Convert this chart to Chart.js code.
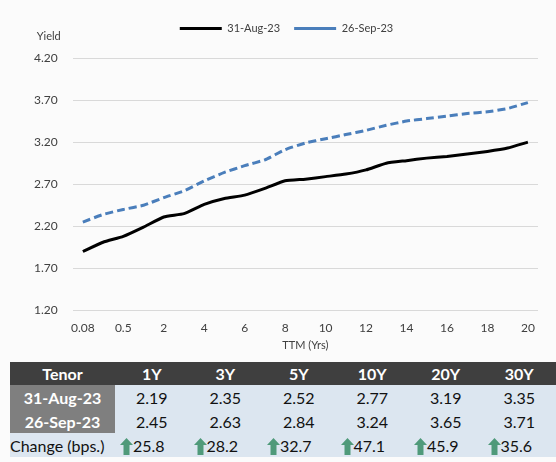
<!DOCTYPE html>
<html>
<head>
<meta charset="utf-8">
<script src="https://cdn.jsdelivr.net/npm/chart.js@4.4.0/dist/chart.umd.min.js"></script>
<style>
  body { margin: 0; background: #fbfbfb; font-family: Lato, "Open Sans", sans-serif; }
  #wrap { position: relative; width: 556px; height: 358px; }
  table { position: absolute; left: 10px; top: 362px; width: 546px; border-collapse: collapse; table-layout: fixed; font-size: 16px; }
  td, th { padding: 0; height: 24px; text-align: center; }
  th { background: #3f3f3f; color: #fff; font-weight: bold; height: 23px; }
  td { background: #dce6f0; color: #111; }
  td.lab { background: #7f7f7f; color: #fff; font-weight: bold; }
  td.chg { text-align: left; padding-left: 5px; white-space: nowrap; }
  td.chglab { text-align: left; white-space: nowrap; }
  svg.up { vertical-align: -3px; }
</style>
</head>
<body>
<div id="wrap"><canvas id="curve"></canvas></div>
<table id="tbl"></table>
<script>
// yield curve (x = time to maturity, years)
const tenors = ["0.08", "0.25", "0.5", "1", "2", "3", "4", "5", "6", "7", "8", "9", "10",
  "11", "12", "13", "14", "15", "16", "17", "18", "19", "20"];
const aug31 = [1.90, 2.01, 2.08, 2.19, 2.31, 2.35, 2.46, 2.53, 2.57, 2.65, 2.74, 2.76, 2.79,
  2.82, 2.87, 2.95, 2.98, 3.01, 3.03, 3.06, 3.09, 3.13, 3.20];
const sep26 = [2.25, 2.34, 2.40, 2.45, 2.54, 2.62, 2.74, 2.84, 2.92, 2.99, 3.11, 3.19, 3.24,
  3.29, 3.34, 3.40, 3.45, 3.48, 3.51, 3.54, 3.56, 3.60, 3.67];

// table below the chart
const tableTenors = ["1Y", "3Y", "5Y", "10Y", "20Y", "30Y"];
const tableAug31 = ["2.19", "2.35", "2.52", "2.77", "3.19", "3.35"];
const tableSep26 = ["2.45", "2.63", "2.84", "3.24", "3.65", "3.71"];
const tableChange = ["25.8", "28.2", "32.7", "47.1", "45.9", "35.6"];

const FONT = "Lato, 'Open Sans', sans-serif";

// "Yield" caption above the y axis
const yieldLabel = {
  id: "yieldLabel",
  afterDraw(chart) {
    const c = chart.ctx;
    c.save();
    c.font = "11px " + FONT;
    c.fillStyle = "#404040";
    c.textAlign = "center";
    c.textBaseline = "middle";
    c.fillText("Yield", chart.chartArea.left - 24, chart.chartArea.top - 22);
    c.restore();
  }
};

// extra room under the legend, and nudge it a bit to the right
const legendGap = {
  id: "legendGap",
  beforeInit(chart) {
    const fit = chart.legend.fit;
    chart.legend.fit = function () {
      fit.call(this);
      this.height += 14;
    };
  },
  afterLayout(chart) {
    chart.legend.left += 8;
    chart.legend.right += 8;
  }
};

const ctx = document.getElementById("curve").getContext("2d");
new Chart(ctx, {
  type: "line",
  data: {
    labels: tenors,
    datasets: [
      { label: "31-Aug-23", data: aug31, borderColor: "#000000", backgroundColor: "#000000",
        borderWidth: 3, pointRadius: 0, tension: 0.15 },
      { label: "26-Sep-23", data: sep26, borderColor: "#4a7ebb", backgroundColor: "#4a7ebb",
        borderWidth: 3, borderDash: [8, 4], pointRadius: 0, tension: 0.15 }
    ]
  },
  options: {
    responsive: true,
    maintainAspectRatio: false,
    animation: false,
    layout: { padding: { left: 19, right: 18, top: 9, bottom: 2 } },
    plugins: {
      legend: {
        position: "top",
        labels: {
          usePointStyle: true,
          pointStyle: "line",
          pointStyleWidth: 42,
          boxHeight: 10,
          color: "#404040",
          font: { family: FONT, size: 11 },
          padding: 14
        }
      },
      tooltip: { enabled: false }
    },
    scales: {
      x: {
        offset: true,
        grid: { display: false },
        border: { display: false },
        ticks: {
          autoSkip: false,
          maxRotation: 0,
          color: "#404040",
          font: { family: FONT, size: 12 },
          callback: function (v, i) { return i % 2 === 0 ? this.getLabelForValue(v) : ""; }
        },
        title: { display: true, text: "TTM (Yrs)", color: "#404040", font: { family: FONT, size: 11 }, padding: { top: 0 } }
      },
      y: {
        min: 1.2,
        max: 4.2,
        grid: { color: "#d9d9d9", drawTicks: false },
        border: { display: false },
        ticks: {
          stepSize: 0.5,
          padding: 15,
          color: "#404040",
          font: { family: FONT, size: 12 },
          callback: v => v.toFixed(2)
        }
      }
    }
  },
  plugins: [yieldLabel, legendGap]
});

// build the table
const arrow = '<svg class="up" width="13" height="17" viewBox="0 0 13 17"><polygon points="6.5,0 13,7 9.5,7 9.5,17 3.5,17 3.5,7 0,7" fill="#4f9a7a"/></svg>';
let html = '<colgroup><col style="width:105px">' + tableTenors.map(() => '<col>').join('') + '</colgroup>';
html += '<tr><th>Tenor</th>' + tableTenors.map(t => '<th>' + t + '</th>').join('') + '</tr>';
html += '<tr><td class="lab">31-Aug-23</td>' + tableAug31.map(v => '<td>' + v + '</td>').join('') + '</tr>';
html += '<tr><td class="lab">26-Sep-23</td>' + tableSep26.map(v => '<td>' + v + '</td>').join('') + '</tr>';
html += '<tr><td class="chglab">Change (bps.)</td>' + tableChange.map(v => '<td class="chg">' + arrow + v + '</td>').join('') + '</tr>';
document.getElementById("tbl").innerHTML = html;
</script>
</body>
</html>
